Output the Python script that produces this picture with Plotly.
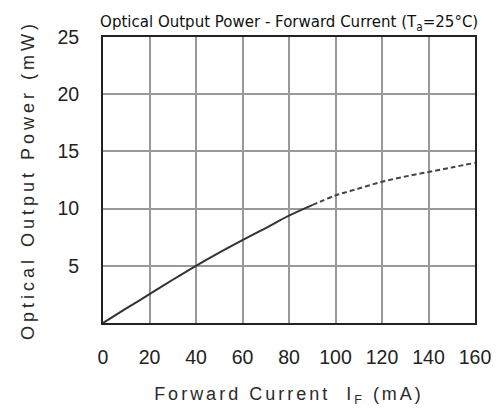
import plotly.graph_objects as go

# data
current_solid = [0, 10, 20, 30, 40, 50, 60, 70, 80, 90]
power_solid = [0, 1.27, 2.52, 3.78, 5.0, 6.15, 7.24, 8.3, 9.38, 10.3]
current_dashed = [90, 100, 110, 120, 130, 140, 150, 160]
power_dashed = [10.3, 11.15, 11.75, 12.35, 12.8, 13.2, 13.6, 14.0]
x_ticks = [0, 20, 40, 60, 80, 100, 120, 140, 160]
y_ticks = [5, 10, 15, 20, 25]

fig = go.Figure()
fig.add_trace(go.Scatter(x=current_solid, y=power_solid, mode="lines",
                         line=dict(color="#333333", width=2, shape="spline"),
                         showlegend=False))
fig.add_trace(go.Scatter(x=current_dashed, y=power_dashed, mode="lines",
                         line=dict(color="#444444", width=2, shape="spline", dash="5px,3px"),
                         showlegend=False))

axis_common = dict(showgrid=True, gridcolor="#999999", gridwidth=1.5,
                   showline=True, linecolor="#222222", linewidth=2, mirror=True,
                   zeroline=False, ticks="",
                   tickfont=dict(family="Liberation Sans, Arial", size=19.5, color="#222222"))

fig.update_layout(
    width=503, height=414,
    margin=dict(l=103, r=23, t=37, b=91),
    paper_bgcolor="white", plot_bgcolor="white",
    title=dict(text="Optical Output Power - Forward Current (T<sub>a</sub>=25°C)",
               x=0.199, xanchor="left", y=0.948, yanchor="middle",
               font=dict(family="DejaVu Sans Condensed, Liberation Sans Narrow, Liberation Sans",
                         size=16.7, color="#111111")),
    xaxis=dict(range=[0, 160], tickvals=x_ticks, ticktext=[str(v) for v in x_ticks],
               ticklabelstandoff=16,
               title=dict(text="Forward Current  I<sub>F</sub> (mA)", standoff=20,
                          font=dict(family="Liberation Sans, Arial", size=18, color="#2a2a2a")),
               **axis_common),
    yaxis=dict(range=[0, 25], tickvals=y_ticks, ticktext=[str(v) for v in y_ticks],
               ticklabelstandoff=18,
               title=dict(text="Optical Output Power (mW)", standoff=18,
                          font=dict(family="Liberation Sans, Arial", size=18, color="#2a2a2a")),
               **axis_common),
)

post = """
document.body.style.margin='0';
document.querySelectorAll('.xtitle').forEach(function(e){e.style.letterSpacing='3px';});
document.querySelectorAll('.ytitle').forEach(function(e){e.style.letterSpacing='4px';});
"""
fig.write_html("out.html", post_script=post, config={"displayModeBar": False})
